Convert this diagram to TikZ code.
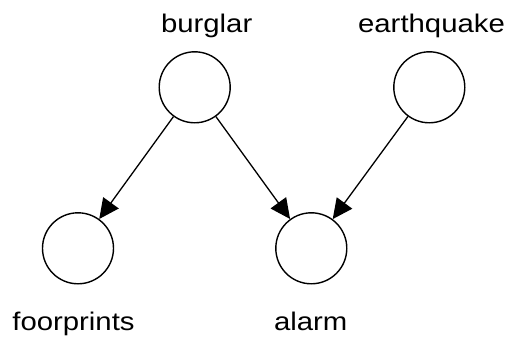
\documentclass[tikz,border=0pt]{standalone}
\usepackage{fontspec}
\setmainfont{Liberation Sans}
\usetikzlibrary{arrows.meta}
\tikzset{
  >={Triangle[length=20pt,width=19pt]},
  var/.style ={circle,draw,line width=1.4pt,minimum size=71pt,inner sep=0pt},
  ar/.style  ={->,line width=1.3pt},
  lbl/.style ={font=\fontsize{25.5}{30}\selectfont,anchor=base,inner sep=0pt,xscale=1.15},
}
\begin{document}
\begin{tikzpicture}[x=1pt,y=-1pt]
\useasboundingbox (0,0) rectangle (507,337);
% variables
\node[var] (burg)  at (194.7,87.3)  {};
\node[var] (quake) at (429.3,87.3)  {};
\node[var] (foot)  at (78,248.3)    {};
\node[var] (alarm) at (311.3,248.3) {};

% names
\node[lbl] (lburg)  at (206.7,32.3) {burglar};
\node[lbl] (lquake) at (431.5,32.3) {earthquake};
\node[lbl] (lfoot)  at (73.5,330)   {foorprints};
\node[lbl] (lalarm) at (310.7,330)  {alarm};

\draw[ar] (burg)--(foot);
\draw[ar] (burg)--(alarm);
\draw[ar] (quake)--(alarm);
\end{tikzpicture}
\end{document}
